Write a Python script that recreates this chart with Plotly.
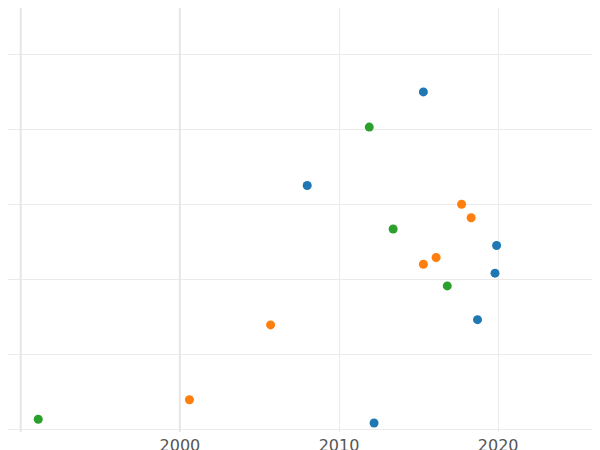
import plotly.graph_objects as go

blue_x = [2015.3, 2008.0, 2019.9, 2019.8, 2018.7, 2012.2]
blue_y = [4.5, 3.25, 2.45, 2.08, 1.46, 0.08]
orange_x = [2017.7, 2018.3, 2016.1, 2015.3, 2005.7, 2000.6]
orange_y = [3.0, 2.82, 2.29, 2.2, 1.39, 0.39]
green_x = [2011.9, 2013.4, 2016.8, 1991.1]
green_y = [4.03, 2.67, 1.91, 0.13]

fig = go.Figure()
for xs, ys, c in [(blue_x, blue_y, "#1f77b4"), (orange_x, orange_y, "#ff7f0e"), (green_x, green_y, "#2ca02c")]:
    fig.add_trace(go.Scatter(x=xs, y=ys, mode="markers", marker=dict(color=c, size=9),
                             showlegend=False, cliponaxis=False))

fig.update_layout(
    width=600, height=450, margin=dict(l=0, r=0, t=0, b=26, pad=0, autoexpand=False),
    plot_bgcolor="white", paper_bgcolor="white",
    font=dict(family="DejaVu Sans", size=16, color="#555"),
    xaxis=dict(range=[1989.2, 2026.9], tickvals=[2000, 2010, 2020], showgrid=True,
               gridcolor="#ebebeb", zeroline=False, ticks="", ticklabelstandoff=2),
    yaxis=dict(range=[-0.04, 5.62], tickvals=[0, 1, 2, 3, 4, 5], showticklabels=False,
               showgrid=True, gridcolor="#ebebeb", zeroline=False),
)
fig.add_vline(x=1990, line_color="#e6e6e6", line_width=2)
fig.add_vline(x=2000, line_color="#e6e6e6", line_width=2)
fig.write_html("out.html")
